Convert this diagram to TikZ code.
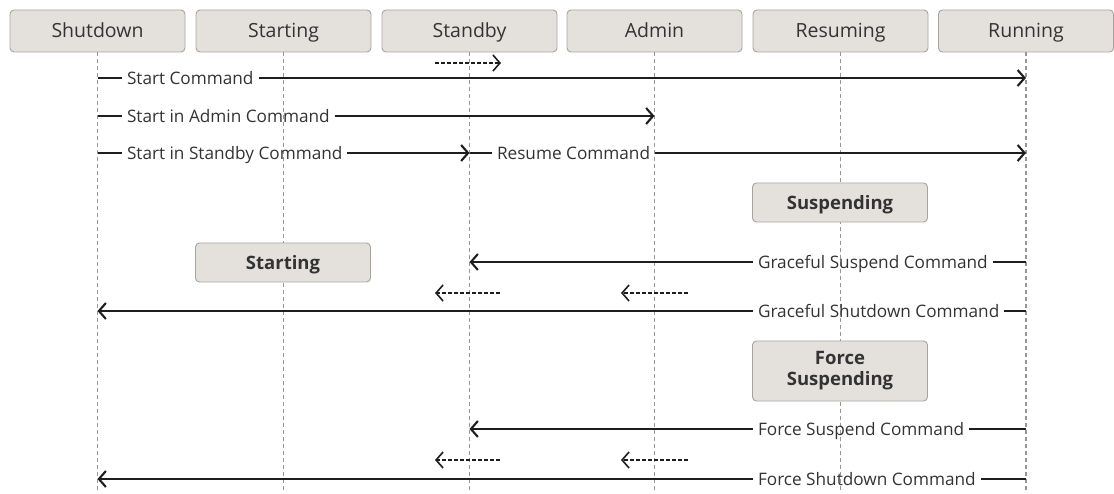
\documentclass[tikz,border=0pt]{standalone}
\usepackage{fontspec}
\setmainfont{Open Sans}
\usetikzlibrary{arrows.meta}
\definecolor{boxfill}{HTML}{E4E1DD}
\definecolor{boxline}{HTML}{A9A39E}
\definecolor{lifeclr}{HTML}{9A9693}
\definecolor{txt}{HTML}{333333}
\definecolor{msg}{HTML}{1E1E1E}
\begin{document}
\begin{tikzpicture}[x=1pt,y=-1pt,
 hdr/.style={draw=boxline, fill=boxfill, rounded corners=4pt, line width=0.9pt, minimum width=175pt, minimum height=42pt, text=txt, font=\fontsize{19.5}{22}\selectfont, inner sep=0pt, text height=14pt, text depth=0pt},
 state/.style={hdr, minimum height=39pt, font=\fontsize{18.5}{21}\selectfont\bfseries, align=center, text height=13.3pt},
 life/.style={draw=lifeclr, line width=1.3pt, dash pattern=on 4pt off 3pt},
 msgline/.style={draw=msg, line width=2.1pt},
 arr/.style={msgline, -{Straight Barb[length=7pt,width=16pt]}},
 dsh/.style={draw=msg, line width=1.6pt, dash pattern=on 4pt off 2pt, -{Straight Barb[length=7pt,width=16pt]}},
 lbl/.style={text=txt, font=\fontsize{17.2}{20}\selectfont, inner sep=0pt, outer sep=0pt, text height=12.3pt, text depth=0pt},
]
\useasboundingbox (0,0) rectangle (1114,494);

% headers
\node[hdr] (shutdown) at (97.5,31) {Shutdown};
\node[hdr] (starting) at (283.5,31) {Starting};
\node[hdr] (standby)  at (469.5,31) {Standby};
\node[hdr] (admin)    at (654.5,31) {Admin};
\node[hdr] (resuming) at (840.5,31) {Resuming};
\node[hdr] (running)  at (1026,31) {Running};

% lifelines
\coordinate (shutdown-end) at (97.5,492);
\coordinate (starting-end) at (283.5,492);
\coordinate (standby-end)  at (469.5,492);
\coordinate (admin-end)    at (654.5,492);
\coordinate (resuming-end) at (840.5,492);
\coordinate (running-end)  at (1026,492);
\draw[life] (shutdown.south) -- (shutdown-end);
\draw[life] (starting.south) -- (starting-end);
\draw[life] (standby.south)  -- (standby-end);
\draw[life] (admin.south)    -- (admin-end);
\draw[life] (resuming.south) -- (resuming-end);
\draw[life] (running.south)  -- (running-end);

% middle state boxes
\node[state] (suspending) at (840,202.5) {Suspending};
\node[state] (starting2) at (283,262.5) {Starting};
\node[state, minimum height=60pt, text height=, text depth=] (forcesusp) at (840,371) {Force\\Suspending};

% small dashed arrows
\coordinate (d1s) at (435,63);  \coordinate (d1e) at (501,63);
\draw[dsh] (d1s) -- (d1e);
\coordinate (d2s) at (500,293); \coordinate (d2e) at (435,293);
\draw[dsh] (d2s) -- (d2e);
\coordinate (d3s) at (688,293); \coordinate (d3e) at (621,293);
\draw[dsh] (d3s) -- (d3e);
\coordinate (d4s) at (500,460); \coordinate (d4e) at (435,460);
\draw[dsh] (d4s) -- (d4e);
\coordinate (d5s) at (688,460); \coordinate (d5e) at (621,460);
\draw[dsh] (d5s) -- (d5e);

% Start Command
\coordinate (m1s) at (97.5,78); \coordinate (m1e) at (1026,78);
\node[lbl, anchor=west] (l1) at (127,78) {Start Command};
\draw[msgline] (m1s) -- ([xshift=-5pt]l1.west);
\draw[arr] ([xshift=5pt]l1.east) -- (m1e);

% Start in Admin Command
\coordinate (m2s) at (97.5,116); \coordinate (m2e) at (654.5,116);
\node[lbl, anchor=west] (l2) at (127,116) {Start in Admin Command};
\draw[msgline] (m2s) -- ([xshift=-5pt]l2.west);
\draw[arr] ([xshift=5pt]l2.east) -- (m2e);

% Start in Standby Command
\coordinate (m3s) at (97.5,153); \coordinate (m3e) at (469.5,153);
\node[lbl, anchor=west] (l3) at (127,153) {Start in Standby Command};
\draw[msgline] (m3s) -- ([xshift=-5pt]l3.west);
\draw[arr] ([xshift=5pt]l3.east) -- (m3e);

% Resume Command
\coordinate (m4s) at (469.5,153); \coordinate (m4e) at (1026,153);
\node[lbl, anchor=west] (l4) at (497,153) {Resume Command};
\draw[msgline] (m4s) -- ([xshift=-5pt]l4.west);
\draw[arr] ([xshift=5pt]l4.east) -- (m4e);

% Graceful Suspend Command
\coordinate (m5s) at (1026,262); \coordinate (m5e) at (469.5,262);
\node[lbl, anchor=west] (l5) at (758,262) {Graceful Suspend Command};
\draw[msgline] (m5s) -- ([xshift=5pt]l5.east);
\draw[arr] ([xshift=-5pt]l5.west) -- (m5e);

% Graceful Shutdown Command
\coordinate (m6s) at (1026,311); \coordinate (m6e) at (97.5,311);
\node[lbl, anchor=west] (l6) at (758,311) {Graceful Shutdown Command};
\draw[msgline] (m6s) -- ([xshift=5pt]l6.east);
\draw[arr] ([xshift=-5pt]l6.west) -- (m6e);

% Force Suspend Command
\coordinate (m7s) at (1026,429); \coordinate (m7e) at (469.5,429);
\node[lbl, anchor=west] (l7) at (758,429) {Force Suspend Command};
\draw[msgline] (m7s) -- ([xshift=5pt]l7.east);
\draw[arr] ([xshift=-5pt]l7.west) -- (m7e);

% Force Shutdown Command
\coordinate (m8s) at (1026,479); \coordinate (m8e) at (97.5,479);
\node[lbl, anchor=west] (l8) at (758,479) {Force Shutdown Command};
\draw[msgline] (m8s) -- ([xshift=5pt]l8.east);
\draw[arr] ([xshift=-5pt]l8.west) -- (m8e);
\end{tikzpicture}
\end{document}
